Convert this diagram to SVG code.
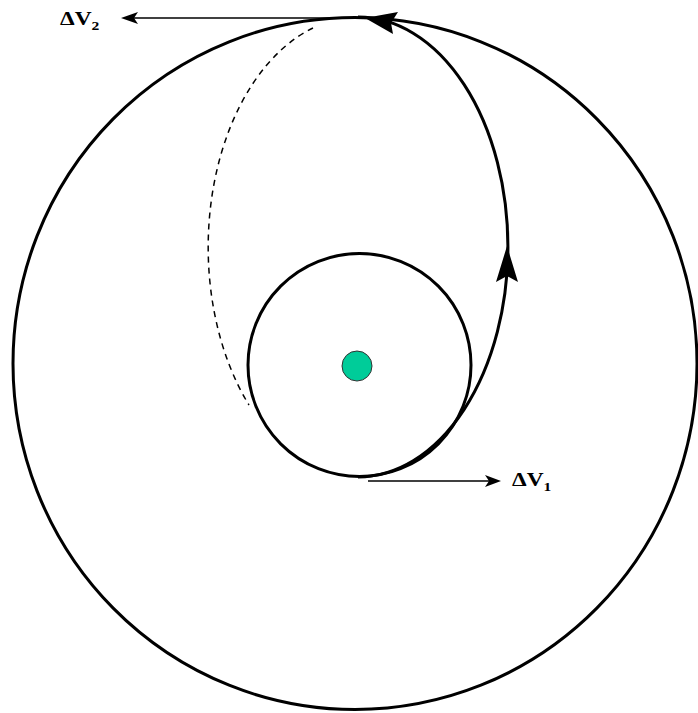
<svg xmlns="http://www.w3.org/2000/svg" width="698" height="713" viewBox="0 0 698 713">
<style>
.orbit{fill:none;stroke:#000;stroke-width:3}
.dash{fill:none;stroke:#000;stroke-width:1.5;stroke-dasharray:6 5}
.vec{fill:none;stroke:#000;stroke-width:1.5}
.head{fill:#000;stroke:none}
.lbl{font-family:"Liberation Serif","Times New Roman",serif;font-weight:bold;fill:#000}
</style>
<rect width="698" height="713" fill="#fff"/>
<g id="outer-orbit"><ellipse class="orbit" cx="355" cy="363.5" rx="342" ry="346"/></g>
<g id="inner-orbit"><circle class="orbit" cx="359.5" cy="365" r="111.5"/></g>
<g id="planet"><circle cx="357" cy="366" r="15" fill="#00CC99" stroke="#333" stroke-width="1"/></g>
<g id="transfer-orbit">
<path class="orbit" d="M358 477 A150 230 0 0 0 358 17"/>
<path class="dash" d="M313 28 A150 230 0 0 0 249 405"/>
</g>
<g id="connectors">
<polygon class="head" points="507,246 496,282 507,276 518,282"/>
<polygon class="head" points="365,18 398,12 391,23 393,34"/>
<line class="vec" x1="365" y1="18" x2="130" y2="18"/>
<polygon class="head" points="121,18 138,12 134,18 138,24"/>
<line class="vec" x1="368" y1="481" x2="490" y2="481"/>
<polygon class="head" points="501,481 485,475 489,481 485,487"/>
</g>
<g id="label-dv2"><text class="lbl" transform="translate(60,25) scale(1.3,1)" font-size="18">ΔV<tspan font-size="12" dy="5">2</tspan></text></g>
<g id="label-dv1"><text class="lbl" transform="translate(512,486) scale(1.3,1)" font-size="18">ΔV<tspan font-size="12" dy="5">1</tspan></text></g>
</svg>
